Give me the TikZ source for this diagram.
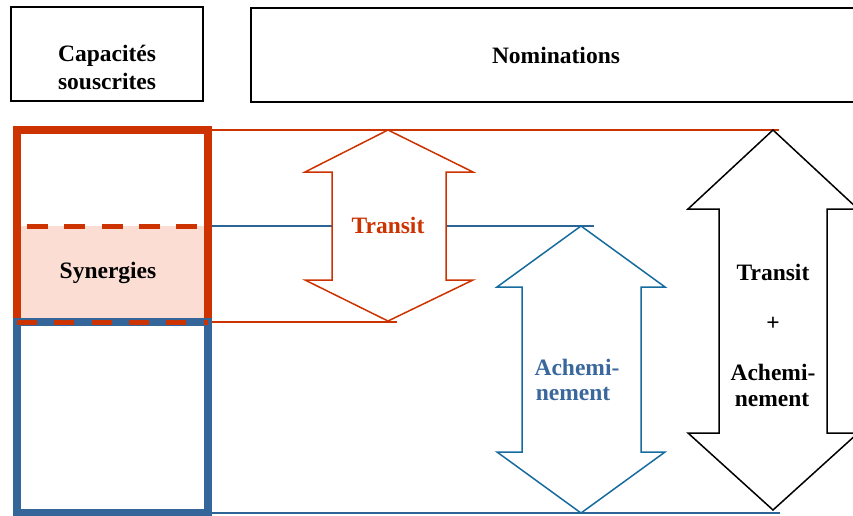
\documentclass[tikz,border=0pt]{standalone}
\usepackage{fontspec}
\setmainfont{Liberation Serif}
\definecolor{redc}{RGB}{204,51,0}
\definecolor{bluebox}{RGB}{52,102,153}
\definecolor{bluethin}{RGB}{45,100,150}
\definecolor{arrowblue}{RGB}{22,108,158}
\definecolor{textblue}{RGB}{58,104,156}
\definecolor{pinkfill}{RGB}{251,221,212}
\tikzset{
  lbl/.style={font=\bfseries\fontsize{23.5}{28}\selectfont, inner sep=0pt},
  topbox/.style={draw=black, line width=1.6pt},
  thinred/.style={draw=redc, line width=1.3pt},
  thinblue/.style={draw=bluethin, line width=1.3pt},
  arrowshape/.style={line width=1.5pt, line join=miter, fill=white}
}
\begin{document}
\begin{tikzpicture}[x=1pt,y=-1pt]
\useasboundingbox (0,0) rectangle (853,515);
\clip (0,0) rectangle (853,515);
% top boxes
\draw[topbox] (11,7) rectangle (203,101);
\draw[topbox] (251,8) rectangle (880,102);
\node[lbl, anchor=base] (cap) at (107,61) {Capacités};
\node[lbl, anchor=base] (sous) at (107,89) {souscrites};
\node[lbl] (nom) at (556,55) {Nominations};
% thin horizontal lines
\draw[thinred] (212,130) -- (779,130);
\draw[thinblue] (212,226) -- (332,226);
\draw[thinblue] (446,226) -- (594,226);
\draw[thinred] (212,322) -- (397,322);
\draw[thinblue] (212,513) -- (780,513);
% synergies fill
\fill[pinkfill] (21,226) rectangle (204,320);
% red box
\draw[redc, line width=8pt, line join=miter] (17,320) -- (17,130) -- (208,130) -- (208,320);
% blue box
\draw[bluebox, line width=8pt, line join=miter] (17,322) rectangle (208,513);
% dashed lines
\draw[redc, line width=5pt, dash pattern=on 21pt off 16.3pt] (27,226) -- (200,226);
\draw[redc, line width=5pt, dash pattern=on 20pt off 17.3pt] (17,322) -- (208,322);
\node[lbl] (syn) at (108,273) {Synergies};
% Transit arrow
\draw[arrowshape, draw=redc] (388,130) -- (473,172) -- (446,172) -- (446,280) -- (473,280) -- (388,321) -- (305,280) -- (332,280) -- (332,172) -- (305,172) -- cycle;
\node[lbl, text=redc] (tr) at (388,225) {Transit};
% Acheminement arrow
\draw[arrowshape, draw=arrowblue] (581,226) -- (665,287) -- (641,287) -- (641,452) -- (665,452) -- (581,513) -- (497,452) -- (522,452) -- (522,287) -- (497,287) -- cycle;
\node[lbl, text=textblue] (ach1) at (577,367) {Achemi-};
\node[lbl, text=textblue] (ach2) at (573,394) {nement};
% combined arrow
\draw[arrowshape, draw=black] (773,130) -- (858,209) -- (827,209) -- (827,433) -- (858,433) -- (773,510) -- (688,433) -- (719,433) -- (719,209) -- (688,209) -- cycle;
\node[lbl] (bt) at (773,272) {Transit};
\node[lbl] (bp) at (773,324) {+};
\node[lbl] (ba1) at (773,372) {Achemi-};
\node[lbl] (ba2) at (772,400) {nement};
\end{tikzpicture}
\end{document}
